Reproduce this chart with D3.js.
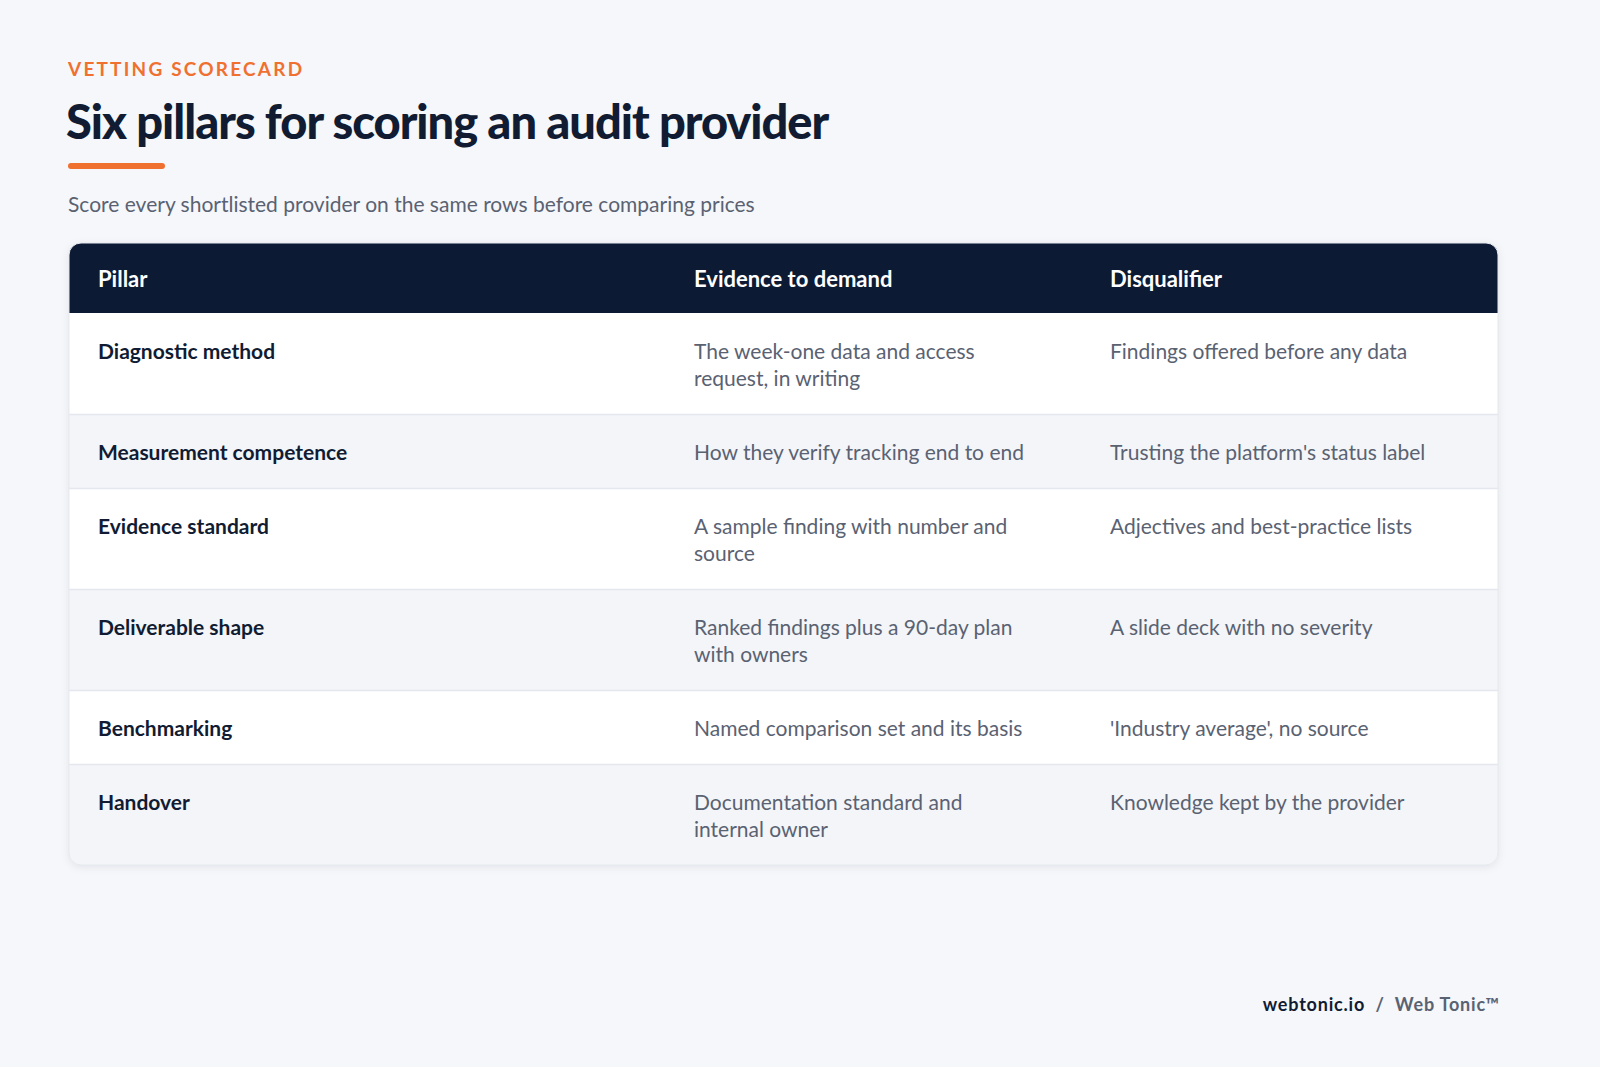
<!DOCTYPE html>
<html>
<head>
<meta charset="utf-8">
<script src="https://cdn.jsdelivr.net/npm/d3@7"></script>
<style>
  html, body { margin: 0; padding: 0; background: #f5f7fa; }
  svg { display: block; font-family: Lato, "Noto Sans", sans-serif; }
</style>
</head>
<body>
<div id="chart"></div>
<script>
// Table content, one entry per row; "|" marks a line break
const headers = ['Pillar', 'Evidence to demand', 'Disqualifier'];
const pillars = ['Diagnostic method', 'Measurement competence', 'Evidence standard',
  'Deliverable shape', 'Benchmarking', 'Handover'];
const evidence = ['The week-one data and access|request, in writing',
  'How they verify tracking end to end',
  'A sample finding with number and|source',
  'Ranked findings plus a 90-day plan|with owners',
  'Named comparison set and its basis',
  'Documentation standard and|internal owner'];
const disqualifiers = ['Findings offered before any data',
  "Trusting the platform's status label",
  'Adjectives and best-practice lists',
  'A slide deck with no severity',
  "'Industry average', no source",
  'Knowledge kept by the provider'];

(function () {
const W = 1600, H = 1067;
const svg = d3.select('#chart').append('svg').attr('width', W).attr('height', H);
svg.append('rect').attr('width', W).attr('height', H).attr('fill', '#f5f7fa');

// Heading block
svg.append('text').attr('x', 68).attr('y', 76)
  .attr('fill', '#f07030').attr('font-size', 19).attr('font-weight', 700)
  .attr('letter-spacing', 2.2).text('VETTING SCORECARD');
svg.append('text').attr('x', 66).attr('y', 139)
  .attr('fill', '#111c33').attr('font-size', 47).attr('font-weight', 900)
  .attr('letter-spacing', -1).text('Six pillars for scoring an audit provider');
svg.append('rect').attr('x', 68).attr('y', 163).attr('width', 97).attr('height', 6)
  .attr('rx', 3).attr('fill', '#f07030');
svg.append('text').attr('x', 68).attr('y', 212)
  .attr('fill', '#5a6272').attr('font-size', 21).text('Score every shortlisted provider on the same rows before comparing prices');

// Table geometry
const tLeft = 69, tRight = 1498, tTop = 243, headH = 70;
const colX = [98, 694, 1110];
const rows = pillars.map((p, i) => ({
  cells: [[p], evidence[i].split('|'), disqualifiers[i].split('|')]
}));
let y = tTop + headH;
rows.forEach(r => {
  const n = d3.max(r.cells, c => c.length);
  r.y = y; r.h = 74 + 27 * (n - 1); y += r.h;
});
const tBottom = y;

const defs = svg.append('defs');
defs.append('clipPath').attr('id', 'tbl').append('rect')
  .attr('x', tLeft).attr('y', tTop).attr('width', tRight - tLeft).attr('height', tBottom - tTop).attr('rx', 12);
const f = defs.append('filter').attr('id', 'sh').attr('x', -0.05).attr('y', -0.05).attr('width', 1.1).attr('height', 1.2);
f.append('feDropShadow').attr('dx', 0).attr('dy', 2).attr('stdDeviation', 4)
  .attr('flood-color', '#0c1a33').attr('flood-opacity', 0.08);

svg.append('rect').attr('x', tLeft).attr('y', tTop).attr('width', tRight - tLeft).attr('height', tBottom - tTop)
  .attr('rx', 12).attr('fill', '#fff').attr('filter', 'url(#sh)');

const t = svg.append('g').attr('clip-path', 'url(#tbl)');
t.append('rect').attr('x', tLeft).attr('y', tTop).attr('width', tRight - tLeft).attr('height', headH).attr('fill', '#0c1a33');
t.selectAll('text.h').data(headers).enter().append('text').attr('class', 'h')
  .attr('x', (d, i) => colX[i]).attr('y', tTop + 44)
  .attr('fill', '#fff').attr('font-size', 22).attr('font-weight', 700).text(d => d);

const rg = t.selectAll('g.row').data(rows).enter().append('g').attr('class', 'row');
rg.append('rect').attr('x', tLeft).attr('y', d => d.y).attr('width', tRight - tLeft).attr('height', d => d.h)
  .attr('fill', (d, i) => i % 2 ? '#f3f5f8' : '#ffffff');
rg.filter((d, i) => i > 0).append('line')
  .attr('x1', tLeft).attr('x2', tRight).attr('y1', d => d.y + 0.5).attr('y2', d => d.y + 0.5)
  .attr('stroke', '#e4e8ee').attr('stroke-width', 1.5);
rg.each(function (r) {
  const g = d3.select(this);
  r.cells.forEach((lines, ci) => {
    const tx = g.append('text').attr('x', colX[ci]).attr('y', r.y + 46)
      .attr('font-size', 21)
      .attr('fill', ci === 0 ? '#111c33' : '#5a6272')
      .attr('font-weight', ci === 0 ? 700 : 400);
    lines.forEach((l, li) => tx.append('tspan').attr('x', colX[ci]).attr('dy', li ? 27 : 0).text(l));
  });
});
svg.append('rect').attr('x', tLeft).attr('y', tTop).attr('width', tRight - tLeft).attr('height', tBottom - tTop)
  .attr('rx', 12).attr('fill', 'none').attr('stroke', '#e6e9ee');

// Footer
const foot = svg.append('text').attr('x', 1500).attr('y', 1011).attr('text-anchor', 'end')
  .attr('font-size', 18).attr('font-weight', 700).attr('letter-spacing', 0.8);
foot.append('tspan').attr('fill', '#111c33').text('webtonic.io');
foot.append('tspan').attr('fill', '#5a6272').attr('xml:space', 'preserve').text('  /  Web Tonic™');
})();
</script>
</body>
</html>
